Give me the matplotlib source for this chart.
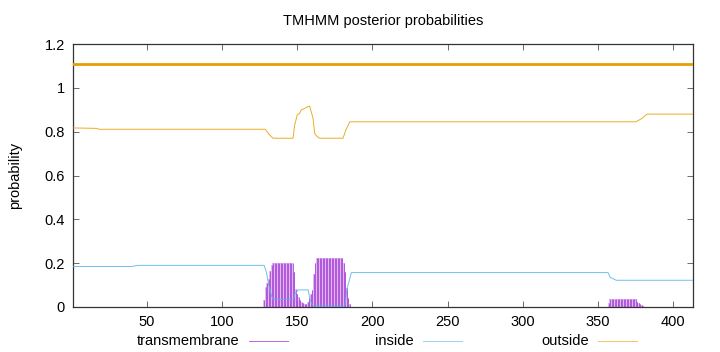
import numpy as np
import matplotlib
matplotlib.use("Agg")
import matplotlib.pyplot as plt
from matplotlib.lines import Line2D

plt.rcParams['font.family'] = ['Liberation Sans', 'DejaVu Sans']

seq_len = 413

# outside probability (position, value)
out_pos = [1, 17, 18, 128.8, 131, 133.9, 147.2, 148.3, 150, 151.6, 152.7, 154.9, 157.1,
           158.3, 159.3, 160.5, 161.6, 163.3, 164.9, 180.4, 182.5, 184.9, 375, 379, 382.4, 413]
out_val = [0.817, 0.815, 0.811, 0.811, 0.79, 0.77, 0.77, 0.83, 0.876, 0.884, 0.899, 0.906, 0.914,
           0.916, 0.891, 0.861, 0.792, 0.777, 0.77, 0.77, 0.81, 0.845, 0.845, 0.86, 0.88, 0.88]

# inside probability
in_pos = [1, 40, 44, 128, 129.5, 131, 133, 134, 147.4, 148.5, 150.7, 157.3, 158.5, 160.7,
          181.7, 183, 186, 356.5, 358, 362, 413]
in_val = [0.185, 0.185, 0.19, 0.19, 0.16, 0.1, 0.05, 0.035, 0.035, 0.06, 0.078, 0.078, 0.03, 0.005,
          0.005, 0.08, 0.157, 0.157, 0.135, 0.122, 0.122]

# transmembrane probability per residue (non-zero stretches)
tm_start1 = 128
tm_vals1 = [0.03, 0.09, 0.11, 0.13, 0.165, 0.19, 0.2,
            0.202, 0.202, 0.202, 0.202, 0.202, 0.202, 0.202, 0.202, 0.202, 0.202, 0.202, 0.202, 0.202,
            0.16, 0.08, 0.06, 0.047, 0.03, 0.024, 0.018, 0.015]
tm_start2 = 156
tm_vals2 = [0.015, 0.025, 0.04, 0.06, 0.078, 0.15, 0.2, 0.222,
            0.225, 0.225, 0.225, 0.225, 0.225, 0.225, 0.225, 0.225,
            0.225, 0.225, 0.225, 0.225, 0.225, 0.225, 0.225, 0.225,
            0.222, 0.2, 0.16, 0.085, 0.04, 0.015]
tm_start3 = 357
tm_vals3 = [0.02, 0.035, 0.035, 0.035, 0.035, 0.035, 0.035, 0.035, 0.035, 0.035,
            0.035, 0.035, 0.035, 0.035, 0.035, 0.035, 0.035, 0.035, 0.035,
            0.025, 0.017, 0.012, 0.008, 0.004]
tm_start0 = 22
tm_vals0 = [0.002] * 18

# predicted topology: whole sequence outside
topo_y = 1.11

tm_x = []
tm_y = []
for s, v in [(tm_start0, tm_vals0), (tm_start1, tm_vals1), (tm_start2, tm_vals2), (tm_start3, tm_vals3)]:
    tm_x += list(range(s, s + len(v)))
    tm_y += v

c_tm = '#9400D3'
c_in = '#56B4E9'
c_out = '#E69F00'

fig = plt.figure(figsize=(7.2, 3.52), dpi=100)
ax = fig.add_axes([73 / 720, 45 / 352, 620 / 720, 263 / 352])

ax.bar(tm_x, tm_y, width=1.0, color='#e2b8f3', linewidth=0, zorder=1)
ax.vlines(tm_x, 0, tm_y, color='#a848d8', linewidth=0.6, zorder=2)
ax.plot(in_pos, in_val, color=c_in, lw=0.7, alpha=0.85, zorder=3)
ax.plot(out_pos, out_val, color=c_out, lw=0.7, alpha=0.85, zorder=3)
ax.plot([1, seq_len], [topo_y, topo_y], color=c_out, lw=2.0, zorder=3)

ax.set_xlim(1, seq_len)
ax.set_ylim(0, 1.2)
ax.set_xticks([50, 100, 150, 200, 250, 300, 350, 400])
ax.set_yticks([0, 0.2, 0.4, 0.6, 0.8, 1.0, 1.2])
ax.set_yticklabels(['0', '0.2', '0.4', '0.6', '0.8', '1', '1.2'])
ax.tick_params(direction='in', length=4, width=0.6, top=True, right=True,
               labelsize=10.5, colors='#555555', labelcolor='black', pad=6)
for sp in ax.spines.values():
    sp.set_linewidth(0.9)
    sp.set_color('#333333')

ax.set_ylabel('probability', fontsize=10.5, labelpad=16)
ax.set_title('TMHMM posterior probabilities', fontsize=10.5, pad=14)

# legend row below the axes
ly = 1 - 341 / 352
for label, col, tx, lx0 in [('transmembrane', c_tm, 239, 249),
                            ('inside', c_in, 414, 423),
                            ('outside', c_out, 589, 598)]:
    fig.text(tx / 720, ly, label, ha='right', va='center', fontsize=10.5)
    fig.add_artist(Line2D([lx0 / 720, (lx0 + 39) / 720], [ly, ly], color=col, lw=0.7, alpha=0.6))

fig.savefig('out.png', dpi=100)
